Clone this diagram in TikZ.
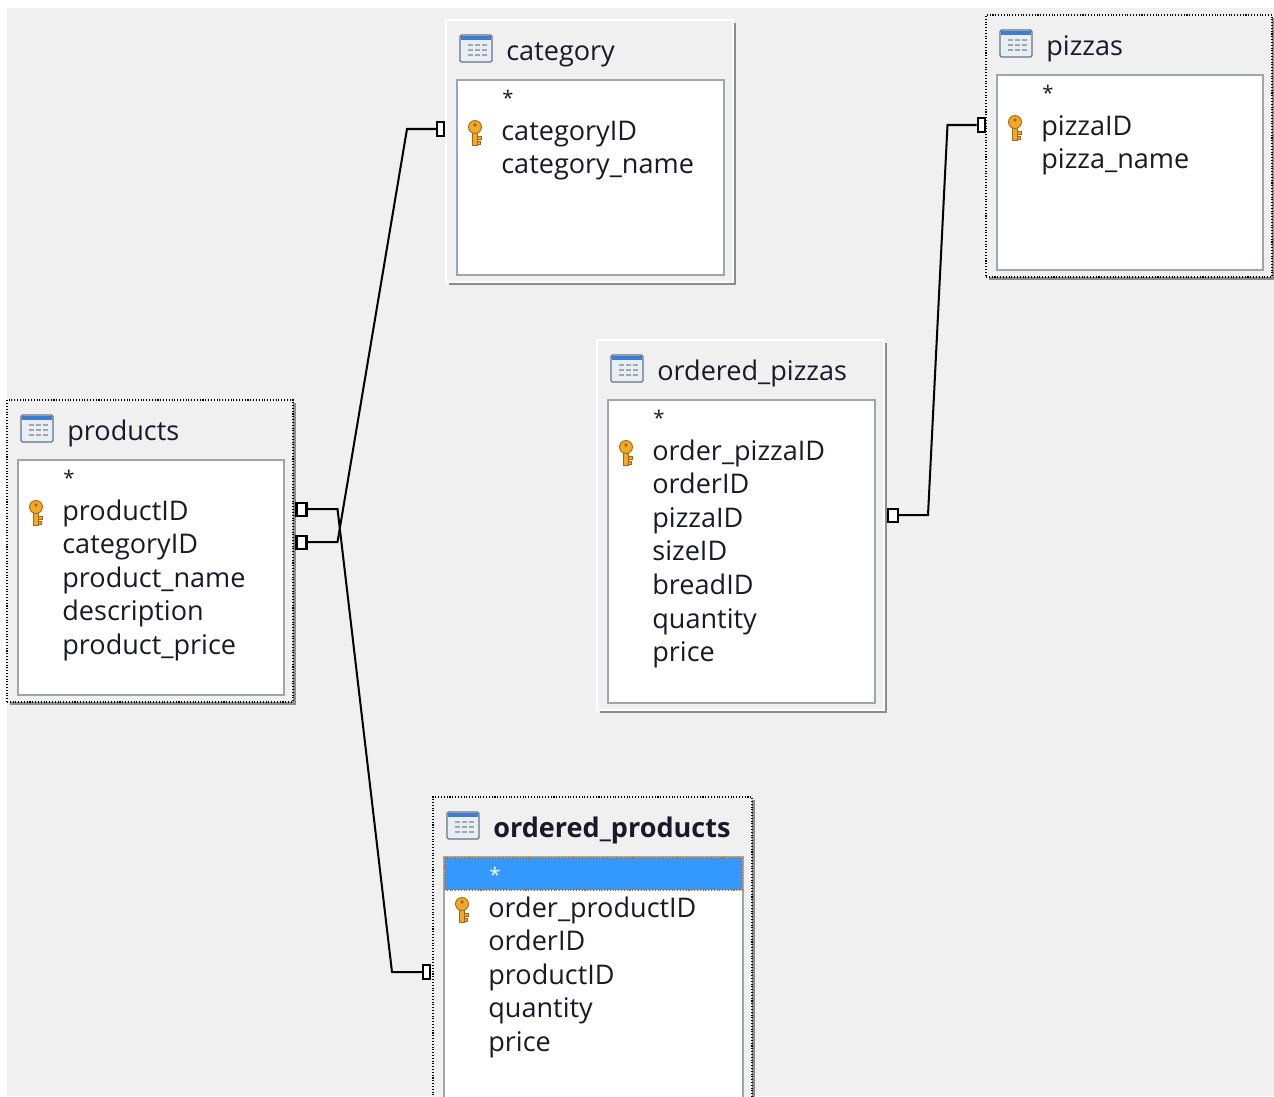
\documentclass[tikz,border=0pt]{standalone}
\usepackage{fontspec}
\setmainfont{Open Sans}
\usetikzlibrary{calc}
\definecolor{bggray}{RGB}{240,240,240}
\definecolor{shadegray}{RGB}{140,140,140}
\definecolor{boxgray}{RGB}{160,164,172}
\definecolor{selblue}{RGB}{51,153,255}
\definecolor{iconblue}{RGB}{60,125,210}
\definecolor{iconfill}{RGB}{232,238,245}
\definecolor{iconline}{RGB}{100,115,135}
\definecolor{keygold}{RGB}{240,170,40}
\definecolor{keyline}{RGB}{170,100,20}
\definecolor{fieldtext}{RGB}{25,25,40}
\newcommand{\pxu}{0.02cm}
\tikzset{ %table look
    tableframe/.style={fill=bggray, draw=white, line width=0.6pt, inner sep=0pt, outer sep=0pt},
    plain frame/.style={},
    sel frame/.style={draw=black, densely dotted},
    focus frame/.style={draw=black, densely dotted},
    plain band/.style={},
    sel band/.style={},
    focus band/.style={fill=selblue, draw=orange!80!black, densely dotted, line width=0.6pt},
    plain text/.style={},
    sel text/.style={},
    focus text/.style={text=white},
    innerbox/.style={fill=white, draw=boxgray, line width=1.1pt},
    field/.style={text=fieldtext, font=\fontsize{15.4}{18}\selectfont, inner sep=0pt},
    starmark/.style={text=fieldtext, font=\fontsize{11.5}{13}\selectfont, inner sep=0pt},
    link/.style={line width=1.15pt},
    fkend/.style={draw, fill=white, line width=1.15pt, minimum width=10*\pxu, minimum height=13*\pxu, inner sep=0pt},
    pkend/.style={draw, fill=white, line width=1.15pt, minimum width=7*\pxu, minimum height=14*\pxu, inner sep=0pt},
}
\newcommand{\tableicon}[1]{%
    \begin{scope}[shift={(#1)}]
        \filldraw[fill=iconfill, draw=iconline, line width=0.7pt, rounded corners=0.8pt] (0,0) rectangle (32,27);
        \fill[iconblue] (1,1) rectangle (31,5);
        \foreach \r in {10,15,20}{
            \foreach \c in {8,15,22}{
                \draw[gray!70, line width=1.1pt] (\c,\r) -- ++(5,0);
            }
        }
    \end{scope}}
\newcommand{\keyicon}[1]{%
    \begin{scope}[shift={(#1)}]
        \filldraw[fill=keygold, draw=keyline, line width=0.5pt] (5.5,11) rectangle (10.5,25);
        \filldraw[fill=keygold, draw=keyline, line width=0.5pt] (10.5,16) rectangle (14,19) (10.5,21) rectangle (13,24);
        \filldraw[fill=keygold, draw=keyline, line width=0.5pt] (8,7) circle (6.5);
        \fill[keyline] (8,5) circle (1.8);
    \end{scope}}
% name, x, y, width, height, title, fields, look
\newcommand{\dbtable}[8]{%
    \fill[shadegray] ({#2+3},{#3+3}) rectangle ({#2+#4+3},{#3+#5+3});
    \node[tableframe, #8 frame, anchor=north west, minimum width=#4*\pxu, minimum height=#5*\pxu] (#1) at (#2,#3) {};
    \draw[innerbox] ({#2+11},{#3+60}) rectangle ({#2+#4-9},{#3+#5-7});
    \path[#8 band] ({#2+12},{#3+61}) rectangle ({#2+#4-10},{#3+93});
    \tableicon{{#2+14},{#3+15}}
    \node[field, anchor=base west] (#1-title) at ({#2+60},{#3+40}) {#6};
    \node[starmark, #8 text, anchor=base west] (#1-star) at ({#2+56},{#3+85}) {*};
    \keyicon{{#2+21},{#3+100}}
    \foreach \f [count=\i] in {#7}{
        \node[field, anchor=base west] (#1-\i) at ({#2+55},{#3+120+(\i-1)*33.6}) {\f};
    }}

\begin{document}
\begin{tikzpicture}[x=0.02cm, y=-0.02cm]
    \useasboundingbox (0,0) rectangle (1274,1096);
    \clip (0,0) rectangle (1274,1096);
    \fill[white] (0,0) rectangle (1274,1096);
    \fill[bggray] (7,8) rectangle (1274,1096);
    \dbtable{category}{446}{20}{287}{262}{category}{categoryID, category\_name}{plain}
    \dbtable{pizzas}{986}{15}{286}{262}{pizzas}{pizzaID, pizza\_name}{sel}
    \dbtable{products}{7}{400}{286}{302}{products}{productID, categoryID, product\_name, description, product\_price}{sel}
    \dbtable{orderedpizzas}{597}{340}{287}{370}{ordered\_pizzas}{order\_pizzaID, orderID, pizzaID, sizeID, breadID, quantity, price}{plain}
    \dbtable{orderedproducts}{433}{797}{319}{310}{\textbf{ordered\_products}}{order\_productID, orderID, productID, quantity, price}{focus}
    % relation ends
    \node[fkend] (prodA) at (301.5,509) {};
    \node[fkend] (prodB) at (301.5,542) {};
    \node[fkend] (opzend) at (893,515) {};
    \node[pkend] (catend) at (440.5,129) {};
    \node[pkend] (pzend) at (981,125) {};
    \node[pkend] (opend) at (426.5,972) {};
    \draw[link] (catend.west) -- ++(-29,0) -- ($(prodB.east)+(30,0)$) -- (prodB.east);
    \draw[link] (opend.west) -- ++(-30,0) -- ($(prodA.east)+(30,0)$) -- (prodA.east);
    \draw[link] (pzend.west) -- ++(-29,0) -- ($(opzend.east)+(29,0)$) -- (opzend.east);
\end{tikzpicture}
\end{document}
